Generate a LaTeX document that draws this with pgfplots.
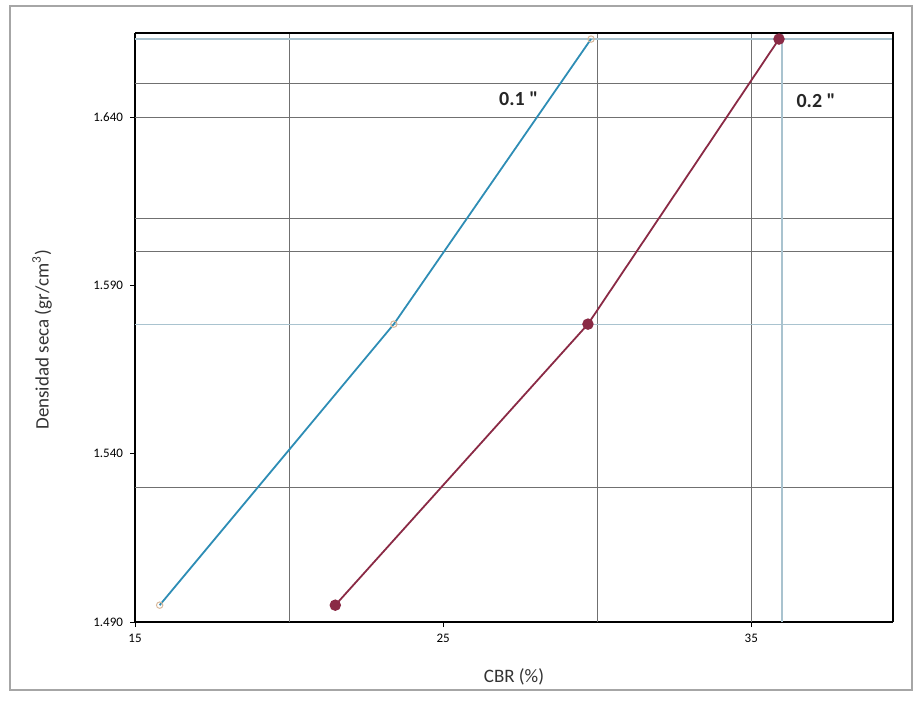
\documentclass[border=0pt]{standalone}
\usepackage{pgfplots}
\pgfplotsset{compat=1.18}
\usepackage{fontspec}
\setmainfont{Carlito}
\definecolor{blueline}{HTML}{2E8DB5}
\definecolor{redline}{HTML}{8A2A45}
\definecolor{gridc}{HTML}{707070}
\definecolor{lightg}{HTML}{A9C3CF}
\definecolor{tanmark}{HTML}{D8B89A}
\begin{document}
\begin{tikzpicture}
\path[use as bounding box] (0,0) rectangle (460pt,351pt);
\draw[black!35, line width=0.6pt] (5pt,6pt) rectangle (456pt,348pt);
\begin{axis}[
  at={(67.5pt,40pt)}, anchor=south west,
  scale only axis, width=379pt, height=294.5pt,
  xmin=15, xmax=39.6, ymin=1.490, ymax=1.665,
  xtick={15,25,35}, ytick={1.490,1.540,1.590,1.640},
  yticklabel style={/pgf/number format/.cd, fixed, fixed zerofill, precision=3},
  /pgf/number format/assume math mode=true,
  tick label style={font=\fontsize{6.5}{8}\selectfont},
  axis x line*=bottom, axis y line*=left,
  tick align=outside, major tick length=2.5pt,
  axis line style={line width=1pt, black},
  tick style={black, line width=0.5pt},
  xlabel={CBR (\%)}, ylabel={Densidad seca (gr/cm\textsuperscript{3})},
  label style={font=\fontsize{9.5}{11}\selectfont, black!80},
  xlabel style={at={(axis description cs:0.5,-0.093)}, anchor=center},
  ylabel style={at={(axis description cs:-0.1227,0.479)}, anchor=center, rotate=0},
  clip=false,
]
% grid lines
\draw[gridc, line width=0.45pt] (axis cs:20,1.490) -- (axis cs:20,1.665);
\draw[gridc, line width=0.45pt] (axis cs:30,1.490) -- (axis cs:30,1.665);
\draw[gridc, line width=0.45pt] (axis cs:35,1.490) -- (axis cs:35,1.665);
\foreach \yy in {1.530,1.600,1.610,1.640,1.650} {
  \edef\tmp{\noexpand\draw[gridc, line width=0.45pt] (axis cs:15,\yy) -- (axis cs:39.6,\yy);}\tmp
}
\draw[lightg, line width=0.6pt] (axis cs:36,1.490) -- (axis cs:36,1.665);
\draw[lightg, line width=0.6pt] (axis cs:15,1.5785) -- (axis cs:39.6,1.5785);
\draw[lightg, line width=0.6pt] (axis cs:15,1.6632) -- (axis cs:39.6,1.6632);
% frame top and right
\draw[black, line width=1pt] (axis cs:15,1.665) -- (axis cs:39.6,1.665) -- (axis cs:39.6,1.490);
% data
\addplot[blueline, line width=0.9pt, mark=o, mark size=1.6pt, mark options={tanmark, line width=0.5pt}]
  coordinates {(15.8,1.495) (23.4,1.5785) (29.8,1.6632)};
\addplot[redline, line width=0.9pt, mark=*, mark size=2.4pt, mark options={fill=redline, draw=redline}]
  coordinates {(21.5,1.495) (29.7,1.5785) (35.9,1.6632)};
\node[font=\fontsize{10}{12}\selectfont\bfseries, black!85] at (axis cs:27.45,1.6455) {0.1 \textquotedbl};
\node[font=\fontsize{10}{12}\selectfont\bfseries, black!85] at (axis cs:37.1,1.6450) {0.2 \textquotedbl};
\end{axis}
\end{tikzpicture}
\end{document}
